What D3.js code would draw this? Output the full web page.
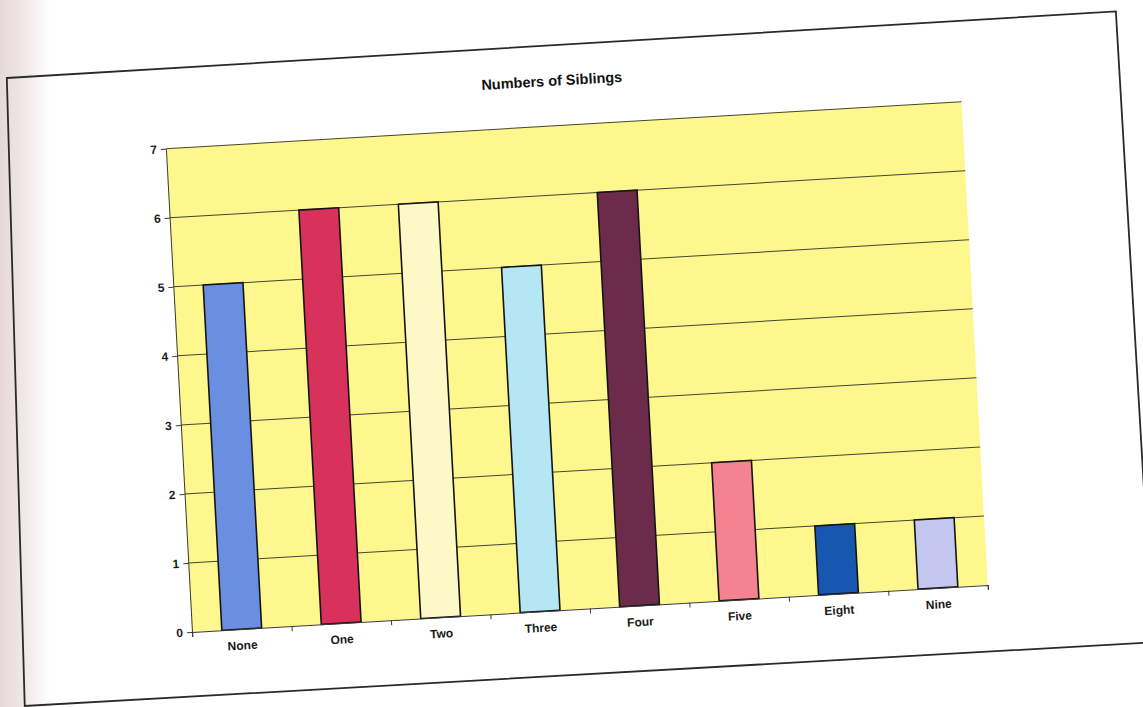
<!DOCTYPE html>
<html>
<head>
<meta charset="utf-8">
<script src="https://cdn.jsdelivr.net/npm/d3@7"></script>
<style>
  html, body { margin: 0; padding: 0; background: #fff; }
  svg { display: block; font-family: "Liberation Sans", Arial, sans-serif; }
</style>
</head>
<body>
<svg id="chart" width="1143" height="707"></svg>
<script>
// Data
const categories = ["None", "One", "Two", "Three", "Four", "Five", "Eight", "Nine"];
const counts = [5, 6, 6, 5, 6, 2, 1, 1];
const barColors = ["#6a8fe0", "#d8315b", "#fdf9c6", "#b5e6f3", "#6c2b4b", "#f58290", "#1757b0", "#c4c7ef"];
const yTicks = [0, 1, 2, 3, 4, 5, 6, 7];
const chartTitle = "Numbers of Siblings";

// Layout
const plotW = 797, plotH = 484;
const svg = d3.select("#chart");

// soft shading along the left page edge
const defs = svg.append("defs");
const edge = defs.append("linearGradient").attr("id", "edgeShade").attr("x1", 0).attr("x2", 1);
edge.append("stop").attr("offset", 0).attr("stop-color", "#e6d8d9");
edge.append("stop").attr("offset", 0.55).attr("stop-color", "#f2eaea");
edge.append("stop").attr("offset", 1).attr("stop-color", "#ffffff");
svg.append("rect").attr("x", 0).attr("y", 0).attr("width", 50).attr("height", 707)
  .attr("fill", "url(#edgeShade)");

// the printed sheet sits slightly tilted; everything is drawn in its own frame
const sheet = svg.append("g")
  .attr("transform", "matrix(0.9983,-0.059,0.054,0.9985,192,632) translate(0," + (-plotH) + ")");

// chart border
const border = [[-155, -80], [956, -81], [959, 551], [-171, 548]];
sheet.append("path")
  .attr("d", d3.line()(border) + "Z")
  .attr("fill", "none")
  .attr("stroke", "#2a2a2a")
  .attr("stroke-width", 1.8);

// title
sheet.append("text")
  .attr("x", 389).attr("y", -45)
  .attr("text-anchor", "middle")
  .attr("dominant-baseline", "central")
  .attr("font-size", 14.5)
  .attr("font-weight", "bold")
  .attr("fill", "#111")
  .text(chartTitle);

// scales
const x = d3.scaleBand().domain(categories).range([0, plotW]).paddingInner(0.6).paddingOuter(0.3);
const xEdges = d3.scaleLinear().domain([0, categories.length]).range([0, plotW]);
const y = d3.scaleLinear().domain([0, 7]).range([plotH, 0]);

// plot area
sheet.append("rect")
  .attr("x", 0).attr("y", 0).attr("width", plotW).attr("height", plotH)
  .attr("fill", "#fdf78e");

// gridlines
sheet.append("g")
  .selectAll("line")
  .data(yTicks.filter(d => d > 0))
  .join("line")
  .attr("x1", 0).attr("x2", plotW)
  .attr("y1", d => y(d)).attr("y2", d => y(d))
  .attr("stroke", "#45452f")
  .attr("stroke-width", 1);

// bars
sheet.append("g")
  .selectAll("rect")
  .data(categories.map((c, i) => ({ c, v: counts[i], col: barColors[i] })))
  .join("rect")
  .attr("x", d => x(d.c))
  .attr("width", x.bandwidth())
  .attr("y", d => y(d.v))
  .attr("height", d => y(0) - y(d.v))
  .attr("fill", d => d.col)
  .attr("stroke", "#141414")
  .attr("stroke-width", 1.6);

// y axis
const yAxis = sheet.append("g")
  .call(d3.axisLeft(y).tickValues(yTicks).tickFormat(d3.format("d")).tickSize(5).tickSizeOuter(0).tickPadding(4));
yAxis.select(".domain").attr("stroke", "#3a3a3a");
yAxis.selectAll(".tick line").attr("stroke", "#3a3a3a");
yAxis.selectAll("text")
  .attr("font-size", 12).attr("font-weight", "bold").attr("fill", "#1a1a1a")
  .attr("font-family", "Liberation Sans, Arial, sans-serif");

// x axis: category boundary ticks
const xTickAxis = sheet.append("g")
  .attr("transform", "translate(0," + plotH + ")")
  .call(d3.axisBottom(xEdges).ticks(categories.length).tickFormat("").tickSize(5).tickSizeOuter(5));
xTickAxis.select(".domain").attr("stroke", "#3a3a3a");
xTickAxis.selectAll(".tick line").attr("stroke", "#3a3a3a");

// x axis: category labels
const xLabelAxis = sheet.append("g")
  .attr("transform", "translate(0," + plotH + ")")
  .call(d3.axisBottom(x).tickSize(0).tickPadding(12));
xLabelAxis.select(".domain").remove();
xLabelAxis.selectAll("text")
  .attr("font-size", 12).attr("font-weight", "bold").attr("fill", "#1a1a1a")
  .attr("font-family", "Liberation Sans, Arial, sans-serif");
</script>
</body>
</html>
